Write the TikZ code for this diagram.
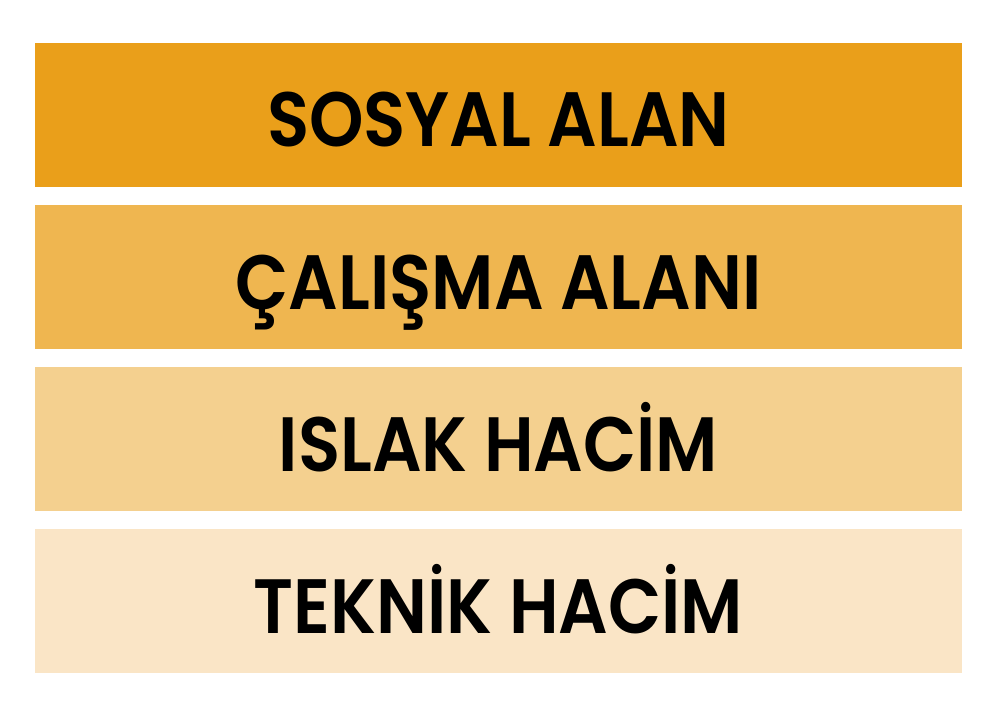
\documentclass[tikz,border=0pt]{standalone}
\usepackage{fontspec}
\setmainfont{Poppins}[BoldFont={* SemiBold}]
\definecolor{cA}{HTML}{EA9F1A}
\definecolor{cB}{HTML}{EFB650}
\definecolor{cC}{HTML}{F4D08F}
\definecolor{cD}{HTML}{FAE5C6}
\begin{document}
\begin{tikzpicture}[x=1pt,y=-1pt,
  bar/.style={draw=none,minimum width=927pt,minimum height=144pt,inner sep=0pt,outer sep=0pt},
  lbl/.style={anchor=base,inner sep=0pt,font=\fontsize{77}{80}\selectfont\bfseries,text=black,xscale=0.9}]
\useasboundingbox (0,0) rectangle (1000,719);
\fill[white] (0,0) rectangle (1000,719);
\node[bar,fill=cA] (b1) at (498.5,115) {};
\node[bar,fill=cB] (b2) at (498.5,277) {};
\node[bar,fill=cC] (b3) at (498.5,439) {};
\node[bar,fill=cD] (b4) at (498.5,601) {};
\node[lbl] (t1) at ([yshift=-32pt]b1.center) {SOSYAL ALAN};
\node[lbl] (t2) at ([yshift=-32pt]b2.center) {ÇALIŞMA ALANI};
\node[lbl] (t3) at ([yshift=-32pt]b3.center) {ISLAK HACİM};
\node[lbl] (t4) at ([yshift=-32pt]b4.center) {TEKNİK HACİM};
\end{tikzpicture}
\end{document}
